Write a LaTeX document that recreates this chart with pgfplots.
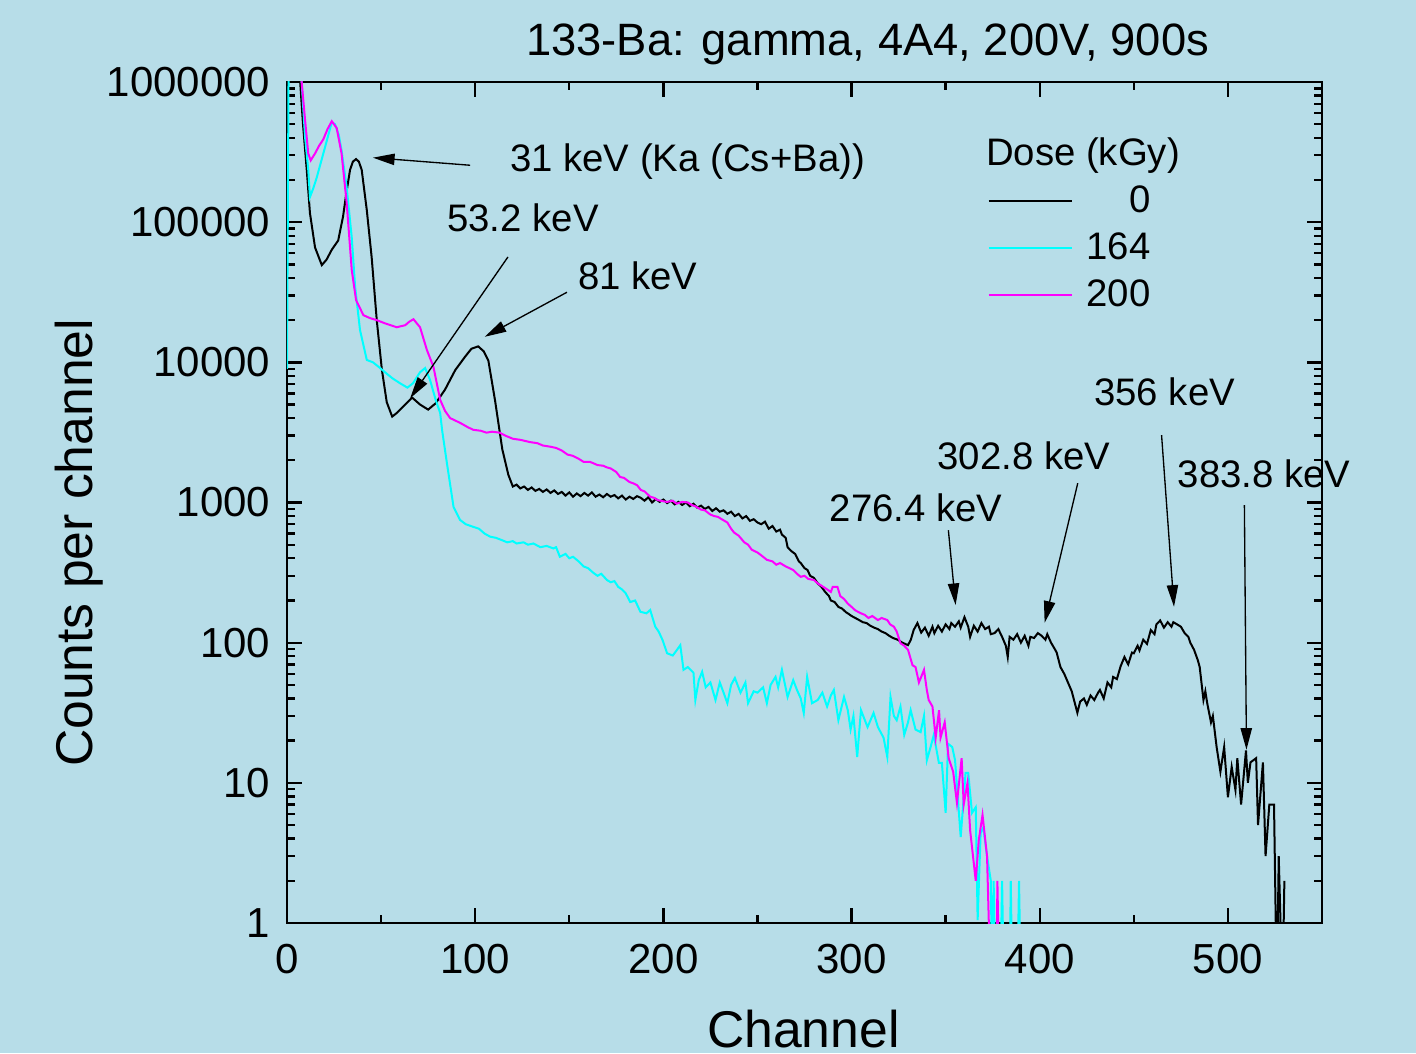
\documentclass[border=0pt]{standalone}
\usepackage{fontspec}
\setmainfont{Liberation Sans}
\usepackage{pgfplots}
\pgfplotsset{compat=1.18}
\usepackage{pgfplotstable}
\usetikzlibrary{arrows.meta}

\definecolor{bg}{RGB}{183,221,232}
\definecolor{cyn}{RGB}{0,255,255}
\definecolor{mag}{RGB}{255,0,255}

% Ba-133 spectra, counts per channel
\pgfplotstableread{
ch cnt
2 3000000
5 2000000
7 1000000
8.5 500000
10.5 236000
12.2 116000
14.9 66000
18.5 49400
21 54000
23.8 63600
27.2 74000
29.8 110000
31.5 160000
33.5 236000
35 270000
36.7 282000
38.2 270000
39.7 236000
42.4 122000
45 56000
47.7 20000
50.4 8900
53 5200
55.9 4100
58.5 4370
62.8 5000
66.5 5600
70.7 5000
75 4600
79 5100
84 6400
89.4 8800
94.7 11000
98 12500
101.6 13000
104.5 12000
107 10300
110.6 5300
114.4 2400
117.6 1580
120 1300
122 1340
124 1260
126 1300
128 1230
130 1280
132 1210
134 1250
136 1190
138 1240
140 1170
142 1220
144 1150
146 1190
148 1120
150 1180
152 1100
154 1160
156 1110
158 1170
160 1120
162 1180
164 1100
166 1140
168 1090
170 1150
172 1100
174 1130
176 1070
178 1120
180 1050
182 1100
184 1060
186 1110
188 1080
190 1030
192 1090
194 1000
196 1060
198 1010
200 1050
202 990
204 1030
206 970
208 1010
210 960
212 1000
214 940
216 980
218 920
220 950
222 900
224 930
226 870
228 910
230 860
232 880
234 830
236 860
238 800
240 830
242 770
244 800
246 740
248 760
250 720
252 700
254 730
256 650
258 680
260 620
262 640
263 590
265 560
266 480
268 450
270 430
272 380
273 370
275 340
276.6 330
278 300
280 290
282 265
284 250
286 230
288 215
289 200
291 195
293 180
295 175
297 165
298 162
300 155
302 150
304 145
306 140
308 138
310 132
312 128
314 125
316 120
318 117
320 112
322 108
324.5 105
327 100
330 96
331.5 105
333 123
335 138
337 118
339 128
341 112
343 130
344 117
346 132
348 120
350 135
352 125
353 138
355 130
357 142
358 128
360 152
362 130
363 110
365 132
367 120
369 138
371 125
373 130
374 115
376 117
378 125
380 110
382 95
383 79
384 110
386 105
388 115
390 100
392 112
394 95
395 110
397 108
399 117
401 112
403 105
404 115
406 100
408 90
409 85
411 67
413 60
415 52
417 45
418 40
420 31.6
421.5 38
423.5 40
425 36
427 42
429 39
431 44
432 46
434 40
436 52
438 48
439 57
441 55
443 68
445 79
447 70
449 85
450 84
452 95
453 88
455 105
457 98
459 123
461 115
462 135
464 144
466 128
468 140
470 130
471 140
473 135
475 130
477 117
479 110
480 100
482 89
484 75
485 67
487 39
488 45
489 37
491 27
492 30
494 18
496 12
498 18
500 7.9
502 13
504 8.9
505 15
507 7
509.6 17
510.6 10
512 14
515 15
516 5
518.6 14
520 3
522 7
524.5 7
526 0.3
527 3
529 0.3
530 2
}\doseA

\pgfplotstableread{
ch cnt
0 9000
1 3000000
6 3000000
7.8 1000000
9.6 404000
11.3 236000
12.2 151000
14 175000
15.8 208000
19.3 309000
22 420000
23.8 515000
25.5 500000
27.5 420000
29 325000
31.7 178000
34.4 78000
36.2 34600
38.8 17000
42.4 10400
45.7 10000
49.5 9100
53 8300
56 7700
60 7100
64 6600
67 7100
70.7 8500
73.4 9100
76 7500
79 5400
81.4 4350
82.4 3300
85 1900
88.5 930
92 750
95 700
99 670
102 650
105 600
108 570
111 560
114 540
117 520
120 530
122 510
125.7 520
128 500
131 510
134.6 480
138 490
141.6 470
143 480
145 410
148 430
150 400
152 410
155 380
157.6 350
160 340
162.8 315
165 300
167 310
170 280
172 270
174 275
176 250
178 240
180 225
182.4 195
185 200
187.8 166
191 162
193 171
195.7 130
197.5 120
199.5 105
202 84
205 81
207 88
209 96
210.7 64
213 67
216 61
217 39
218.8 54
220.6 62
222.5 48
225 52
227.7 39
230 52
232 44
234 37
236 50
238 56
241 44
243.6 52
245 37
248 45
250 44
253 48
255 37
257 50
259.6 57
261 48
263 64
266 41
269 54
271 46
273 40
274.6 31.5
276.4 57
279 37
282 39
284.5 44
287 35
289 42
290.6 46
293 28
296 41
298 33
299.5 24
301 30
303 15.3
305 33
308.5 25
311.7 31.5
314 25
317 21
319 15.3
320.7 41
322.5 30
324 28
326 35
328 22
330 27
331.4 33
334 24
336.7 23
338.5 30
340 14.5
342 18
343.7 22
346.4 13.9
348 13.9
350 6.1
351.3 19
353.5 18
355 14.5
358 4.1
360.6 11.8
362 11.8
364 6.1
366 6.7
367 1.05
368.6 4.4
370 4.8
372 3
374 2
374.8 0.3
375.5 2
376.5 0.3
379 0.3
380 2
381 0.3
384 0.3
384.6 2
385.5 0.3
388 0.3
389 2
390 0.3
}\doseB

\pgfplotstableread{
ch cnt
1 3000000
6 3000000
7.8 1000000
9.6 536000
11.3 309000
12.6 276000
14.9 309000
17 350000
19.3 390000
21.5 460000
23.8 525000
26.4 470000
29 309000
31.7 138000
34.4 45700
36.7 27800
40.6 21700
44 20700
47.7 20000
52 19000
58.3 17800
62.8 18400
65 19500
67.2 20300
70.7 17800
74.3 12300
77.8 9300
81.4 5400
84 4500
86.7 4000
92 3700
96 3450
99 3300
103 3250
106 3150
109 3200
113 3150
116 3000
120 2850
124 2800
129 2700
133 2650
136 2550
140 2500
143 2450
146 2350
149 2200
152 2150
155 2050
157.6 1950
161 1950
163 1900
165 1850
168 1830
170 1780
172 1750
175 1650
177 1520
179 1500
182 1400
184 1370
186 1330
188 1230
190 1200
193 1100
195 1080
197 1040
200 1020
202 1010
205 1030
207 980
210 1010
213 1000
215 960
217 940
220 890
222 880
225 820
227 800
229 790
231 760
234 720
236 650
237.6 610
240 580
243 520
245 500
247 460
250 440
252 420
255 390
258 380
260 360
262 370
265 350
267 340
269 330
271 310
273 295
275 300
277 285
280 280
282 265
284 255
287 240
289 230
290 250
292.5 250
294 215
296 205
298 190
300 180
302 170
305 162
307 158
309 150
311 155
314 145
316 150
319 145
320.5 135
322.5 130
324 120
326 99
328 95
330 89
332.4 69
334 67
335.8 52
338.5 64
340 46
341 39
343 35
344.7 21
346.5 33
347.3 21
349.5 27
351.6 15
354 12
356 7.2
358.5 15
359.6 7
361.6 10
363 4.6
366 2
367.6 3.9
369.6 5.9
372 3
374 0.3
377 0.3
377.5 2
378.6 0.3
}\doseC

\begin{document}
\begin{tikzpicture}
\fill[bg] (-86.1pt,-39pt) rectangle (338.7pt,276.9pt);
\begin{axis}[
    at={(0,0)}, anchor=south west,
    scale only axis, width=310.5pt, height=252.3pt,
    xmin=0, xmax=550,
    ymode=log, ymin=1, ymax=1000000,
    clip mode=individual,
    xtick={0,100,200,300,400,500},
    xticklabels={0,100,200,300,400,500},
    minor x tick num=1,
    ytick={1,10,100,1000,10000,100000,1000000},
    yticklabels={1,10,100,1000,10000,100000,1000000},
    tick align=inside, tick pos=both,
    major tick length=4.5pt, minor tick length=2.4pt,
    every tick/.style={black, line width=0.7pt},
    axis line style={line width=0.8pt},
    /pgf/number format/assume math mode=true,
    tick label style={font=\fontsize{12.6}{14}\selectfont},
    xticklabel style={yshift=-2.8pt},
    yticklabel style={xshift=-1.5pt},
    legend image code/.code={\draw[#1] (0pt,0pt) -- (25pt,0pt); \path (27pt,0pt);},
    legend cell align=right,
    legend style={at={(axis description cs:0.677,0.885)}, anchor=north west,
        draw=none, fill=none, inner sep=0pt, outer sep=0pt,
        font=\fontsize{11.5}{13}\selectfont, row sep=0.6pt},
    every axis plot/.append style={line width=0.6pt, no markers},
]
\addplot[black] table[x=ch, y=cnt] {\doseA};
\addplot[cyn] table[x=ch, y=cnt] {\doseB};
\addplot[mag] table[x=ch, y=cnt] {\doseC};
\legend{0,164,200}

\node[anchor=west, font=\fontsize{11.5}{13}\selectfont] at (axis description cs:0.664,0.912) {Dose (kGy)};

\begin{scope}[font=\fontsize{11.5}{13}\selectfont]
\node[anchor=base] at (axis description cs:0.387,0.893) {31 keV (Ka (Cs+Ba))};
\node[anchor=base] at (axis description cs:0.228,0.822) {53.2 keV};
\node[anchor=base] at (axis description cs:0.339,0.753) {81 keV};
\node[anchor=base] at (axis description cs:0.608,0.477) {276.4 keV};
\node[anchor=base] at (axis description cs:0.712,0.539) {302.8 keV};
\node[anchor=base] at (axis description cs:0.848,0.615) {356 keV};
\node[anchor=base] at (axis description cs:0.944,0.518) {383.8 keV};
\end{scope}

\begin{scope}[line width=0.4pt, -{Triangle[length=6.5pt,width=3.4pt]}]
\draw (axis description cs:0.177,0.901) -- (axis description cs:0.083,0.910);
\draw (axis description cs:0.2135,0.792) -- (axis description cs:0.119,0.624);
\draw (axis description cs:0.2705,0.750) -- (axis description cs:0.191,0.697);
\draw (axis description cs:0.639,0.467) -- (axis description cs:0.646,0.378);
\draw (axis description cs:0.764,0.523) -- (axis description cs:0.732,0.357);
\draw (axis description cs:0.845,0.580) -- (axis description cs:0.857,0.376);
\draw (axis description cs:0.925,0.497) -- (axis description cs:0.927,0.206);
\end{scope}

\node[anchor=base, font=\fontsize{13.6}{16}\selectfont] at (axis description cs:0.561,1.032) {133-Ba: gamma, 4A4, 200V, 900s};
\node[anchor=base, font=\fontsize{15.5}{18}\selectfont] at (axis description cs:0.499,-0.1475) {Channel};
\node[anchor=base, rotate=90, font=\fontsize{15.5}{18}\selectfont] at (axis description cs:-0.188,0.452) {Counts per channel};
\end{axis}
\pgfresetboundingbox
\path[use as bounding box] (-86.1pt,-39pt) rectangle (338.7pt,276.9pt);
\end{tikzpicture}
\end{document}
